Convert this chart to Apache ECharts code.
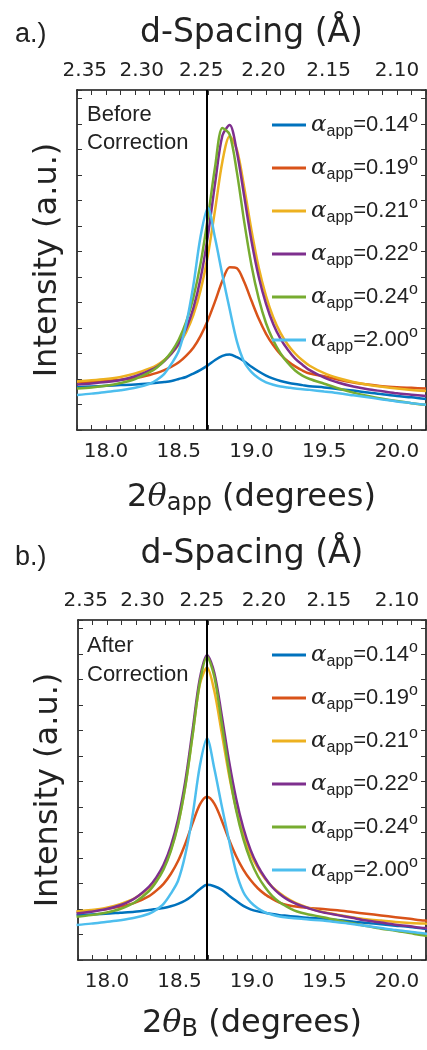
<!DOCTYPE html>
<html><head><meta charset="utf-8">
<script src="https://cdn.jsdelivr.net/npm/echarts@6/dist/echarts.min.js"></script>
<style>html,body{margin:0;padding:0;background:#fff}#c{width:427px;height:1050px}</style>
</head><body><div id="c"></div>
<script>
// ---- data ----
const angleLabels = ['0.14','0.19','0.21','0.22','0.24','2.00'];
const colors = ['#0072BD','#D95319','#EDB120','#7E2F8E','#77AC30','#4DBEEE'];
const xTickLabels = [18.0, 18.5, 19.0, 19.5, 20.0];
const dTickLabels = [2.35, 2.30, 2.25, 2.20, 2.15, 2.10];
const refLine = 18.69;
const beamEnergyKeV = 17.0;

// panel a (before correction)
const xA = [17.8,17.9,18.0,18.1,18.2,18.3,
  18.35,18.4,18.45,18.5,18.55,18.6,18.65,18.7,18.75,18.8,18.85,18.9,18.95,19.0,19.05,19.1,19.15,19.2,19.25,19.3,19.35,19.4,
  19.5,19.6,19.7,19.8,19.9,20.0,20.1,20.2];
const a014 = [12.6,12.8,13.0,13.2,13.4,13.7,
  13.9,14.1,14.4,15.0,15.6,16.6,17.7,19.0,20.6,21.8,22.2,21.4,20.2,18.6,17.2,16.0,15.1,14.4,13.9,13.5,13.2,12.9,
  12.5,12.0,11.6,11.0,10.5,10.0,9.6,9.1];
const a019 = [14.1,14.2,14.5,14.8,15.3,16.2,
  16.8,17.6,18.6,19.9,21.8,24.2,27.7,32.3,37.9,43.9,47.9,47.6,43.5,38.0,32.7,28.3,24.9,22.2,20.2,18.7,17.5,16.6,
  15.8,14.8,14.0,13.4,12.9,12.6,12.4,12.2];
const a021 = [14.3,14.6,15.0,15.6,16.6,18.1,
  19.1,20.6,22.5,25.1,28.7,33.8,41.1,51.4,64.9,79.0,86.4,82.4,71.3,58.7,47.7,39.4,33.1,28.5,25.1,22.5,20.5,18.9,
  16.7,15.2,14.1,13.3,12.7,12.2,11.8,11.5];
const a022 = [13.4,13.7,14.1,14.7,15.8,17.5,
  18.6,20.3,22.5,25.5,29.8,35.8,44.6,57.1,72.7,86.6,89.7,81.7,68.7,55.6,45.0,37.1,31.1,26.8,23.6,21.0,19.2,17.6,
  15.4,13.9,12.8,12.0,11.4,10.8,10.4,10.0];
const a024 = [12.2,12.5,13.0,13.8,15.0,17.0,
  18.4,20.4,23.0,26.6,31.7,38.9,49.0,62.4,77.5,88.8,86.9,75.7,61.2,48.4,38.6,31.4,26.3,22.5,19.7,17.5,16.0,15.0,
  13.6,12.2,11.0,10.0,9.2,8.5,7.9,7.4];
const a200 = [10.3,10.7,11.2,11.7,12.4,13.6,
  14.8,16.5,19.5,23.3,31.0,42.5,57.0,65.4,56.3,45.6,35.5,26.0,20.0,17.0,15.2,14.0,13.3,12.8,12.5,12.2,12.0,11.8,
  11.3,10.8,10.2,9.6,9.0,8.4,7.9,7.4];

// panel b (after correction)
const xB = [17.79,17.89,17.99,18.09,18.19,18.29,
  18.34,18.39,18.44,18.49,18.54,18.59,18.64,18.69,18.74,18.79,18.84,18.89,18.94,18.99,19.04,19.09,19.14,19.19,19.24,19.29,19.34,19.39,
  19.49,19.59,19.69,19.79,19.89,19.99,20.09,20.19,20.29];
const b014 = [13.2,13.4,13.6,13.9,14.2,14.7,
  15.0,15.3,15.8,16.5,17.5,19.0,20.8,22.1,21.7,20.7,19.0,17.4,15.9,14.9,14.3,13.9,13.5,13.2,13.0,12.8,12.6,12.4,
  12.1,11.8,11.3,10.9,10.5,10.1,9.7,9.2,8.9];
const b019 = [14.2,14.5,14.9,15.7,16.8,18.8,
  20.4,22.4,25.3,29.1,34.2,40.2,45.7,48.0,46.0,41.2,35.6,30.6,26.6,23.5,21.1,19.3,18.0,16.9,16.2,15.8,15.5,15.3,
  15.0,14.6,14.1,13.6,13.1,12.6,12.1,11.6,11.3];
const b021 = [14.3,14.7,15.3,16.4,18.1,21.2,
  23.7,27.2,32.4,40.0,51.2,66.2,81.0,86.0,79.1,67.1,54.8,44.6,36.9,31.2,27.1,23.9,21.5,19.7,18.2,17.0,16.1,15.3,
  14.1,13.3,12.6,12.0,11.6,11.2,10.9,10.7,10.5];
const b022 = [13.7,14.2,14.9,16.1,18.1,21.6,
  24.3,28.0,33.5,41.4,52.6,67.5,82.7,89.7,84.5,72.3,58.9,47.6,38.9,32.4,27.7,24.2,21.4,19.4,17.9,16.8,15.9,15.2,
  14.0,13.2,12.4,11.6,11.0,10.4,9.9,9.4,9.1];
const b024 = [12.7,13.2,13.9,15.0,16.9,20.3,
  23.0,26.6,32.0,39.8,51.0,66.0,81.6,89.2,83.4,70.0,55.9,44.2,35.6,29.3,24.7,21.4,18.8,17.0,15.7,14.6,13.9,13.4,
  12.6,11.7,10.8,10.0,9.2,8.6,7.9,7.2,6.8];
const b200 = [10.3,10.7,11.2,11.7,12.4,13.6,
  14.8,16.5,19.5,23.3,31.0,42.5,57.0,65.2,56.3,45.6,35.5,26.0,20.0,17.0,15.2,14.0,13.3,12.8,12.5,12.3,12.1,11.9,
  11.6,11.1,10.6,10.0,9.4,8.8,8.3,7.8,7.5];

const panelA = [a014, a019, a021, a022, a024, a200];
const panelB = [b014, b019, b021, b022, b024, b200];

// ---- chart ----
const TXT = '#222';
const lambda = 12.3984 / beamEnergyKeV;
const dPos = dTickLabels.map(d => 2 * Math.asin(lambda / (2 * d)) * 180 / Math.PI);
function dFormatter(v) {
  let best = 0, bd = Infinity;
  dPos.forEach((p, i) => { const e = Math.abs(p - v); if (e < bd) { bd = e; best = i; } });
  return dTickLabels[best].toFixed(2);
}
const axisLine = { show: true, onZero: false, lineStyle: { color: '#111', width: 1.6 } };
const tick = { show: true, inside: true, length: 5, lineStyle: { color: '#333', width: 1 } };

function bottomAxis(gi, sub, gap) {
  return {
    type: 'value', gridIndex: gi, position: 'bottom', min: 17.8, max: 20.2, interval: 0.1,
    axisLine: axisLine, axisTick: tick, splitLine: { show: false },
    axisLabel: { customValues: xTickLabels, formatter: v => v.toFixed(1), fontFamily: 'DejaVu Sans', fontSize: 20, color: TXT, margin: 12 },
    name: '{n|2}{t|θ}{s|' + sub + '}{n| (degrees)}', nameLocation: 'middle', nameGap: gap,
    nameTextStyle: { rich: {
      n: { fontFamily: 'DejaVu Sans', fontSize: 32, lineHeight: 36, color: TXT },
      t: { fontFamily: 'DejaVu Serif', fontStyle: 'italic', fontSize: 32, lineHeight: 36, color: TXT },
      s: { fontFamily: 'DejaVu Sans', fontSize: 24, lineHeight: 9, verticalAlign: 'bottom', color: TXT }
    } }
  };
}
function topAxis(gi, gap) {
  return {
    type: 'value', gridIndex: gi, position: 'top', min: 17.8, max: 20.2, interval: 0.1,
    axisLine: axisLine, axisTick: tick, splitLine: { show: false },
    axisLabel: { customValues: dPos, formatter: dFormatter, fontFamily: 'DejaVu Sans', fontSize: 20, color: TXT, margin: 9 },
    name: 'd-Spacing (Å)', nameLocation: 'middle', nameGap: gap,
    nameTextStyle: { fontFamily: 'DejaVu Sans', fontSize: 33, lineHeight: 36, color: TXT }
  };
}
function leftAxis(gi) {
  return {
    type: 'value', gridIndex: gi, position: 'left', min: 0, max: 100, interval: 7.5,
    axisLine: axisLine, axisTick: tick, axisLabel: { show: false }, splitLine: { show: false },
    name: 'Intensity (a.u.)', nameLocation: 'middle', nameGap: 13, nameRotate: 90,
    nameTextStyle: { fontFamily: 'DejaVu Sans', fontSize: 32, color: TXT }
  };
}
function rightAxis(gi) {
  return {
    type: 'value', gridIndex: gi, position: 'right', min: 0, max: 100, interval: 7.5,
    axisLine: axisLine, axisTick: tick, axisLabel: { show: false }, splitLine: { show: false }
  };
}
const legendRich = {
  a: { fontFamily: 'DejaVu Serif', fontStyle: 'italic', fontSize: 23, lineHeight: 30, color: TXT },
  s: { fontFamily: 'Liberation Sans', fontSize: 16, lineHeight: 12, verticalAlign: 'bottom', color: TXT },
  v: { fontFamily: 'Liberation Sans', fontSize: 22, lineHeight: 30, color: TXT },
  o: { fontFamily: 'Liberation Sans', fontSize: 16, lineHeight: 12, verticalAlign: 'top', color: TXT }
};
function legend(top) {
  return {
    orient: 'vertical', left: 272, top: top, padding: 0, itemGap: 13, itemWidth: 34, itemHeight: 3,
    icon: 'rect',
    data: angleLabels, formatter: n => '{a|α}{s|app}{v|=' + n + '}{o|o}',
    textStyle: { color: TXT, rich: legendRich }
  };
}
function mkSeries(xs, ys, i, ai, last) {
  const s = {
    type: 'line', name: angleLabels[i], xAxisIndex: ai, yAxisIndex: ai,
    data: xs.map((x, k) => [x, ys[k]]), symbol: 'none', smooth: 0.3, clip: true,
    lineStyle: { width: 2.5, color: colors[i] }, itemStyle: { color: colors[i] }
  };
  if (last) s.markLine = {
    silent: true, symbol: ['none', 'none'], label: { show: false },
    lineStyle: { color: '#000', width: 2, type: 'solid' }, data: [{ xAxis: refLine }]
  };
  return s;
}
const series = [];
panelA.forEach((ys, i) => series.push(mkSeries(xA, ys, i, 0, i === panelA.length - 1)));
panelB.forEach((ys, i) => series.push(mkSeries(xB, ys, i, 2, i === panelB.length - 1)));

const chart = echarts.init(document.getElementById('c'), null, { renderer: 'canvas' });
chart.setOption({
  animation: false,
  backgroundColor: '#fff',
  grid: [
    { left: 77, top: 90, width: 349, height: 340 },
    { left: 78, top: 620, width: 348, height: 340 }
  ],
  xAxis: [bottomAxis(0, 'app', 50), topAxis(0, 39), bottomAxis(1, 'B', 46), topAxis(1, 48)],
  yAxis: [leftAxis(0), rightAxis(0), leftAxis(1), rightAxis(1)],
  legend: [legend(110), legend(640)],
  graphic: [
    { type: 'text', left: 15, top: 21, style: { text: 'a.)', fontFamily: 'Liberation Sans', fontSize: 27, fill: TXT } },
    { type: 'text', left: 15, top: 544, style: { text: 'b.)', fontFamily: 'Liberation Sans', fontSize: 27, fill: TXT } },
    { type: 'text', left: 87, top: 101, style: { text: 'Before\nCorrection', fontFamily: 'Liberation Sans', fontSize: 22, lineHeight: 28, fill: TXT } },
    { type: 'text', left: 87, top: 631, style: { text: 'After\nCorrection', fontFamily: 'Liberation Sans', fontSize: 22, lineHeight: 29, fill: TXT } }
  ],
  series: series
});
</script></body></html>
